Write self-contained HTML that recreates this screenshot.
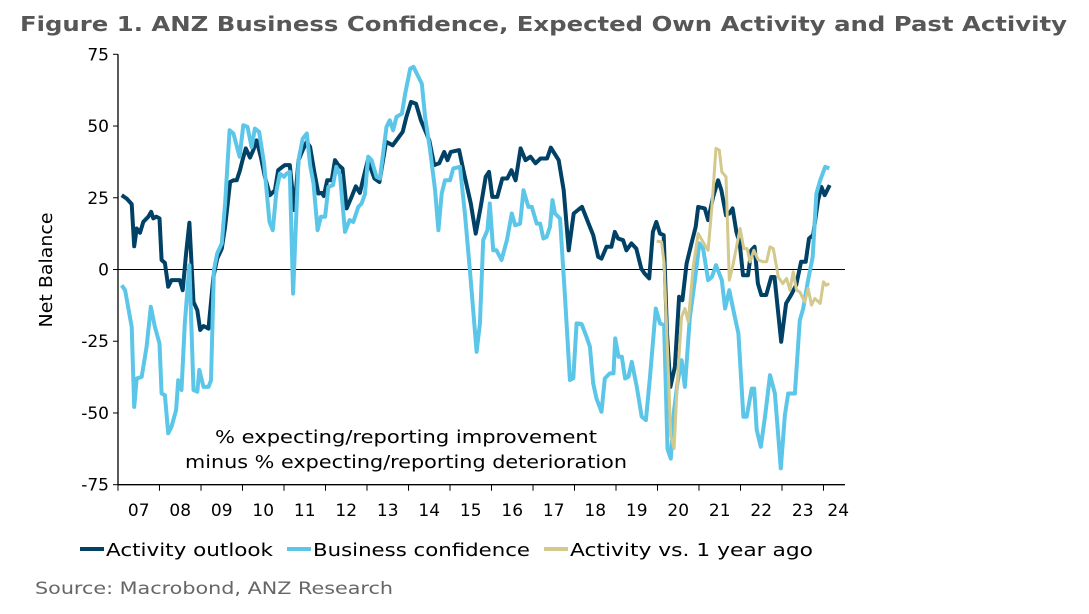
<!DOCTYPE html>
<html><head><meta charset="utf-8"><style>
html,body{margin:0;padding:0;background:#fff;}
svg{display:block;font-family:"DejaVu Sans","Liberation Sans",sans-serif;}
</style></head><body>
<svg id="chart" width="1089" height="614" viewBox="0 0 1089 614" xmlns="http://www.w3.org/2000/svg">
<text x="20" y="31" font-size="20" font-weight="bold" fill="#575757" textLength="1047" lengthAdjust="spacingAndGlyphs">Figure 1.  ANZ Business Confidence, Expected Own Activity and Past Activity</text>
<g id="axes"></g>
<g id="series"></g>
<text transform="translate(52,270) rotate(-90)" text-anchor="middle" font-size="18" fill="#000" textLength="115" lengthAdjust="spacingAndGlyphs">Net Balance</text>
<text x="215" y="443" font-size="18" fill="#000" textLength="382" lengthAdjust="spacingAndGlyphs">% expecting/reporting improvement</text>
<text x="185" y="468" font-size="18" fill="#000" textLength="442" lengthAdjust="spacingAndGlyphs">minus % expecting/reporting deterioration</text>
<g>
<g><line x1="80" y1="549" x2="104" y2="549" stroke="#004165" stroke-width="4"/><text x="106" y="556" font-size="18" textLength="167" lengthAdjust="spacingAndGlyphs">Activity outlook</text></g>
<g><line x1="287" y1="549" x2="311" y2="549" stroke="#5bc6e8" stroke-width="4"/><text x="313" y="556" font-size="18" textLength="217" lengthAdjust="spacingAndGlyphs">Business confidence</text></g>
<g><line x1="544" y1="549" x2="568" y2="549" stroke="#d3c98c" stroke-width="4"/><text x="570" y="556" font-size="18" textLength="243" lengthAdjust="spacingAndGlyphs">Activity vs. 1 year ago</text></g>
</g>
<text x="35" y="594" font-size="17" fill="#666" textLength="358" lengthAdjust="spacingAndGlyphs">Source: Macrobond, ANZ Research</text>
</svg>
<script>
const yTicks=[-75,-50,-25,0,25,50,75];
const xYears=[2007,2008,2009,2010,2011,2012,2013,2014,2015,2016,2017,2018,2019,2020,2021,2022,2023,2024];
const xLabels=["07","08","09","10","11","12","13","14","15","16","17","18","19","20","21","22","23","24"];
const outlookDates=[2007.09,2007.21,2007.33,2007.39,2007.45,2007.53,2007.61,2007.73,2007.80,2007.85,2007.92,2008.0,2008.05,2008.13,2008.21,2008.29,2008.41,2008.49,2008.56,2008.64,2008.72,2008.82,2008.91,2008.98,2009.06,2009.18,2009.30,2009.39,2009.50,2009.58,2009.70,2009.78,2009.86,2009.94,2010.0,2010.08,2010.18,2010.26,2010.34,2010.44,2010.54,2010.66,2010.78,2010.86,2010.94,2011.02,2011.14,2011.25,2011.35,2011.45,2011.55,2011.63,2011.73,2011.83,2011.91,2011.96,2012.04,2012.15,2012.23,2012.31,2012.41,2012.51,2012.63,2012.73,2012.83,2012.91,2013.02,2013.18,2013.30,2013.46,2013.62,2013.86,2013.95,2014.06,2014.18,2014.30,2014.50,2014.62,2014.74,2014.86,2014.94,2015.02,2015.22,2015.34,2015.50,2015.62,2015.74,2015.86,2015.94,2016.02,2016.14,2016.26,2016.38,2016.48,2016.58,2016.70,2016.82,2016.94,2017.06,2017.18,2017.34,2017.43,2017.62,2017.74,2017.86,2017.98,2018.10,2018.18,2018.34,2018.45,2018.57,2018.65,2018.77,2018.89,2018.97,2019.05,2019.17,2019.25,2019.37,2019.49,2019.61,2019.69,2019.80,2019.89,2019.97,2020.06,2020.15,2020.23,2020.31,2020.42,2020.52,2020.60,2020.70,2020.82,2020.92,2020.98,2021.14,2021.22,2021.34,2021.46,2021.54,2021.65,2021.73,2021.81,2021.90,2021.98,2022.06,2022.18,2022.26,2022.34,2022.42,2022.50,2022.62,2022.74,2022.82,2022.98,2023.10,2023.22,2023.34,2023.46,2023.57,2023.65,2023.75,2023.87,2023.95,2024.03,2024.15];
const outlookValues=[25.9,24.7,22.8,8.1,14.3,12.8,16.6,18.4,20.1,17.8,18.4,17.8,3.3,2.3,-6,-3.7,-3.7,-3.7,-7.2,5.6,16.3,-11.3,-14.2,-21.1,-19.7,-20.6,-2.6,3.8,7.3,14.9,30.5,31.1,31.1,34.6,38.1,42.2,39.0,41.6,45,39.3,32.3,25.9,27.6,34.6,35.5,36.4,36.4,20.7,38.1,41.6,44.5,42.7,34,26.5,26.7,25.6,31.1,31.1,38.1,36.4,35.2,21.3,25.3,29,26.7,31.7,38.1,31.7,30.5,44.5,43.3,48,53.2,58.4,57.8,52,45,36.4,37,41,38.1,41,41.6,33.4,23,12.5,21.8,32.3,34,25.3,25.3,31.7,31.7,34.6,31.1,42.2,38.1,39.3,37,38.7,38.7,42.5,38.1,27.6,6.7,19.5,20.9,21.8,16,12,4.4,3.8,7.9,7.9,13.1,10.8,10.2,6.7,9.1,7.3,0.3,-1.4,-3.1,13.1,16.6,12.5,12,-22.3,-40.9,-33.9,-9.5,-10.7,2.1,9.1,14.9,21.8,21.3,17.2,25.3,31.1,27.6,18.9,19.5,21.3,13.1,9.1,-2,-2,6.7,7.9,-4.9,-8.9,-8.9,-2.6,-2.6,-25.2,-11.8,-8.9,-5.5,2.7,2.7,10.8,12,24.2,28.8,25.9,29.4];
const confDates=[2007.09,2007.17,2007.33,2007.39,2007.45,2007.57,2007.69,2007.79,2007.89,2008.0,2008.05,2008.13,2008.21,2008.29,2008.40,2008.45,2008.53,2008.61,2008.72,2008.82,2008.91,2008.96,2009.06,2009.18,2009.24,2009.31,2009.39,2009.50,2009.58,2009.69,2009.78,2009.93,2010.02,2010.12,2010.22,2010.30,2010.40,2010.52,2010.65,2010.73,2010.82,2010.90,2011.0,2011.06,2011.14,2011.22,2011.35,2011.45,2011.55,2011.63,2011.71,2011.81,2011.89,2011.99,2012.07,2012.18,2012.26,2012.35,2012.47,2012.58,2012.67,2012.79,2012.87,2012.95,2013.03,2013.11,2013.23,2013.31,2013.47,2013.55,2013.63,2013.71,2013.84,2013.92,2014.04,2014.12,2014.32,2014.40,2014.52,2014.64,2014.72,2014.80,2014.88,2015.00,2015.08,2015.24,2015.36,2015.48,2015.56,2015.64,2015.72,2015.80,2015.90,2015.96,2016.04,2016.12,2016.24,2016.37,2016.49,2016.57,2016.69,2016.77,2016.89,2016.97,2017.09,2017.17,2017.25,2017.33,2017.41,2017.47,2017.53,2017.65,2017.77,2017.89,2017.97,2018.05,2018.17,2018.29,2018.37,2018.45,2018.53,2018.65,2018.73,2018.85,2018.94,2018.98,2019.06,2019.14,2019.22,2019.30,2019.38,2019.50,2019.62,2019.72,2019.82,2019.96,2020.06,2020.16,2020.24,2020.32,2020.40,2020.48,2020.58,2020.66,2020.78,2020.90,2021.01,2021.10,2021.22,2021.31,2021.41,2021.55,2021.63,2021.73,2021.83,2021.95,2022.07,2022.15,2022.27,2022.33,2022.39,2022.49,2022.59,2022.71,2022.83,2022.97,2023.07,2023.15,2023.31,2023.43,2023.51,2023.63,2023.74,2023.83,2023.92,2024.04,2024.14];
const confValues=[-5.5,-7.2,-20,-47.9,-38,-37.4,-26.9,-13,-20,-25.8,-43.2,-43.8,-57.1,-54.8,-49,-38.6,-42,-18.8,1.5,-42,-42.6,-35,-40.9,-40.9,-38.6,-0.2,5.6,9.1,23,48.5,47.4,39.3,50.3,49.7,42.7,49.1,48,36.9,16.6,13.7,27.6,33.4,32.3,33.4,34,-8.4,38.1,45.6,47.4,36.4,30,13.7,18.4,18.4,28.8,29.4,35.8,32.9,13.1,17.2,16.6,21.8,23,26.2,39.3,38.1,32.3,31.7,49.7,52,48.5,53.2,54.3,61.3,70.0,70.6,64.8,53.2,41.6,27.6,13.7,26.5,31.1,31.1,35.2,35.8,19.5,-0.2,-14.2,-28.7,-18.9,10.2,13.7,23,6.7,6.7,3.3,10.2,19.5,15.4,16,27.6,21.8,21.8,16,16,10.8,11.4,14.9,24.2,19.5,17.8,-9.5,-38.5,-37.9,-18.8,-19,-23.4,-26.9,-39.7,-45,-49.6,-38,-36.2,-36.2,-24,-30.4,-30.4,-38,-37.4,-32.2,-40.9,-51.3,-52.5,-37.4,-13.6,-18.8,-19.4,-62.5,-65.9,-49,-39.7,-31.6,-40.9,-16.5,-3.7,9.1,7.3,-3.7,-2.6,1.5,-3.7,-13.6,-7.2,-14.2,-22.3,-51.3,-51.3,-41.5,-41.5,-55.9,-61.8,-51.3,-36.8,-43.2,-69.3,-50.7,-43.2,-43.2,-17.7,-13.6,-3.7,4.4,26.5,31.1,35.8,35.2];
const pastDates=[2019.98,2020.10,2020.16,2020.24,2020.32,2020.40,2020.48,2020.58,2020.66,2020.74,2020.86,2020.98,2021.10,2021.22,2021.31,2021.41,2021.49,2021.55,2021.65,2021.73,2021.81,2021.99,2022.08,2022.16,2022.23,2022.32,2022.43,2022.55,2022.63,2022.71,2022.79,2022.91,2023.02,2023.11,2023.19,2023.27,2023.35,2023.43,2023.55,2023.63,2023.71,2023.79,2023.92,2024.00,2024.06,2024.14];
const pastValues=[9.9,9.6,2.1,-28,-58,-62.4,-38.6,-16.5,-13.6,-18.2,0.9,12.5,9.6,6.7,21.8,42.2,41.6,34,32.3,-3.7,0.9,14.3,7.3,7.3,2.7,6.7,3.3,2.7,2.7,7.9,7.3,-2.6,-4.9,-3.1,-7.2,-0.8,-7.2,-7.8,-11.3,-6.6,-12.4,-10.1,-11.8,-4.3,-5.5,-4.9];

const NS="http://www.w3.org/2000/svg";
const X0=118,X1=845,YT=54.3,YB=484.7;
function xs(y){return X0+(y-2007)*41.5;}
function ys(v){return YB-(v+75)/150*(YB-YT);}
function mk(tag,attrs,parent){const e=document.createElementNS(NS,tag);for(const k in attrs)e.setAttribute(k,attrs[k]);parent.appendChild(e);return e;}
const axes=document.getElementById('axes');
const series=document.getElementById('series');
let a=mk('line',{x1:X0,y1:YT,x2:X0,y2:YB,stroke:'#000','stroke-width':1.3},axes);


a=mk('line',{x1:X0,y1:YB,x2:X1,y2:YB,stroke:'#000','stroke-width':1.3},axes);


a=mk('line',{x1:X0,y1:ys(0),x2:X1,y2:ys(0),stroke:'#000','stroke-width':1},axes);


yTicks.forEach(v=>{
  const t=mk('line',{x1:X0-5,y1:ys(v),x2:X0,y2:ys(v),stroke:'#000','stroke-width':1},axes);
  
  
  const l=mk('text',{x:X0-9,y:ys(v)+6,'text-anchor':'end','font-size':17},axes);
  l.textContent=String(v);
  
  
});
xYears.forEach((yr,i)=>{
  const t=mk('line',{x1:xs(yr),y1:YB,x2:xs(yr),y2:YB+6,stroke:'#000','stroke-width':1},axes);
  
  
  const l=mk('text',{x:xs(yr+0.5)-(i===xYears.length-1?6:0),y:516,'text-anchor':'middle','font-size':17},axes);
  l.textContent=xLabels[i];
  
  
});
function draw(d,v,color,w,name){
  const pts=d.map((x,i)=>xs(x).toFixed(1)+','+ys(v[i]).toFixed(1)).join(' ');
  const p=mk('polyline',{points:pts,fill:'none',stroke:color,'stroke-width':w,'stroke-linejoin':'round'},series);
  
  
}
draw(outlookDates,outlookValues,'#004165',4,'activity-outlook-line');
draw(confDates,confValues,'#5bc6e8',4,'business-confidence-line');
draw(pastDates,pastValues,'#d3c98c',3,'activity-vs-year-ago-line');
</script>
</body></html>
